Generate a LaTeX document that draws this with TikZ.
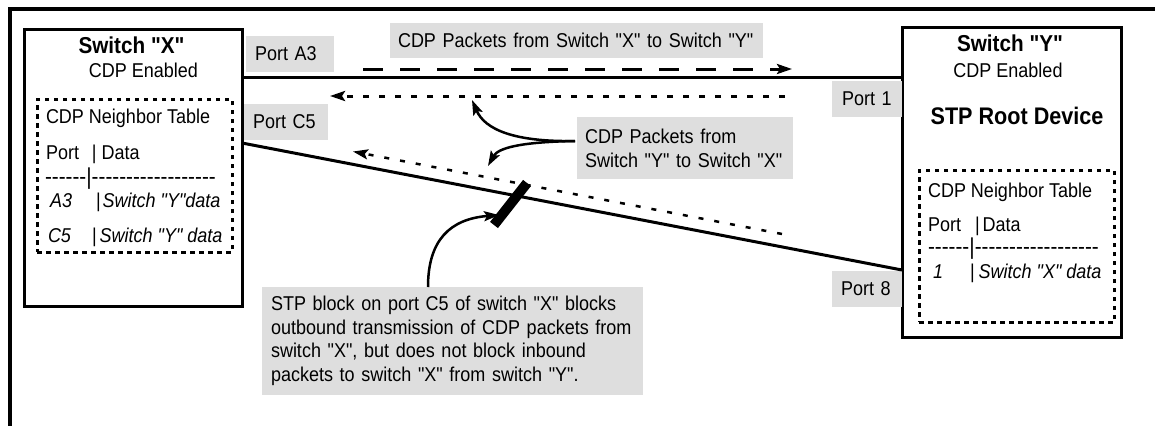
\documentclass[tikz,border=0pt]{standalone}
\usepackage{fontspec}
\setmainfont{Liberation Sans}[FakeStretch=0.9, Ligatures=TeXOff]
\usetikzlibrary{arrows.meta,calc}
\definecolor{lblgray}{RGB}{222,222,222}
\begin{document}
\begin{tikzpicture}[x=1pt,y=-1pt,
  every node/.style={font=\fontsize{20pt}{24pt}\selectfont, inner sep=0pt, outer sep=0pt},
  swbox/.style={draw, line width=3pt, anchor=north west},
  tblbox/.style={draw, line width=3pt, dash pattern=on 4.5pt off 4.5pt, anchor=north west},
  lbl/.style={fill=lblgray, anchor=north west, align=left, inner ysep=0pt},
  swtitle/.style={anchor=base, font=\fontsize{23pt}{26pt}\selectfont\bfseries},
  ctext/.style={anchor=base},
  ltext/.style={anchor=base west},
  dashrow/.style={anchor=base west, font=\fontsize{23pt}{26pt}\selectfont},
  link/.style={line width=3pt},
  tipS/.style={-{Stealth[length=15pt,width=10pt,inset=3pt]}},
  pktxy/.style={line width=3pt, dash pattern=on 20pt off 17pt, tipS},
  pktyx/.style={line width=3pt, dash pattern=on 6pt off 10pt, tipS},
  pktyxlow/.style={line width=2.5pt, dash pattern=on 5pt off 11pt, tipS},
  curv/.style={line width=2.5pt, tipS},
  frame/.style={line width=4pt}
]
\useasboundingbox (0,0) rectangle (1155,426);

% outer frame (top and left only)
\draw[frame] (1155,9) -- (9.5,9) -- (9.5,426);

% switch boxes
\node[swbox, minimum width=218pt, minimum height=277pt] (sx) at (24,29) {};
\node[swbox, minimum width=219pt, minimum height=310pt] (sy) at (902,27) {};

% neighbor tables
\node[tblbox, minimum width=195pt, minimum height=153pt] (tx) at (37,99) {};
\node[tblbox, minimum width=195pt, minimum height=152pt] (ty) at (919,170) {};

% switch X texts
\node[swtitle] (sxT) at (131.5,53) {Switch "X"};
\node[ctext] (sxE) at (143.5,77) {CDP Enabled};
\node[ltext] (tx1) at (46,123) {CDP Neighbor Table};
\node[ltext] (tx2) at (46,159) {\makebox[46pt][l]{Port}|\hspace{5pt}Data};
\node[dashrow] (tx3) at (45,184) {------|------------------};
\node[ltext] (tx4) at (50,207) {\itshape\makebox[46pt][l]{A3}{\upshape|}\hspace{2pt}Switch "Y"data};
\node[ltext] (tx5) at (48,242) {\itshape\makebox[44pt][l]{C5}{\upshape|}\hspace{3pt}Switch "Y" data};

% switch Y texts
\node[swtitle] (syT) at (1010,51) {Switch "Y"};
\node[ctext] (syE) at (1008,77) {CDP Enabled};
\node[anchor=base, font=\fontsize{24pt}{28pt}\selectfont\bfseries] (syR) at (1017,124) {STP Root Device};
\node[ltext] (ty1) at (928,197) {CDP Neighbor Table};
\node[ltext] (ty2) at (928,231) {\makebox[47pt][l]{Port}|\hspace{3pt}Data};
\node[dashrow] (ty3) at (928,254) {------|------------------};
\node[ltext] (ty4) at (933,278) {\itshape\makebox[37pt][l]{1}{\upshape|}\hspace{4pt}Switch "X" data};

% port labels
\node[lbl, minimum height=36pt, text width=70pt, inner xsep=9pt] (pA3) at (246,36) {Port A3};
\node[lbl, minimum height=36pt, text width=66pt, inner xsep=9pt] (pC5) at (244,104) {Port C5};
\node[lbl, minimum height=36pt, text width=50pt, inner xsep=10pt] (p1) at (832,81) {Port 1};
\node[lbl, minimum height=36pt, text width=52pt, inner xsep=9pt] (p8) at (832,271) {Port 8};

% packet labels
\node[lbl, minimum height=35pt, text width=357pt, inner xsep=8pt] (lxy) at (390,23) {CDP Packets from Switch "X" to Switch "Y"};
\node[lbl, minimum height=62pt, text width=200pt, inner xsep=8pt] (lyx) at (577,117) {CDP Packets from\\Switch "Y" to Switch "X"};
\node[lbl, minimum height=108pt, text width=363pt, inner xsep=9pt, font=\fontsize{20pt}{23.6pt}\selectfont] (stp) at (262,287)
  {STP block on port C5 of switch "X" blocks\\outbound transmission of CDP packets from\\switch "X", but does not block inbound\\packets to switch "X" from switch "Y".};

% links between switches
\coordinate (sxA) at ($(sx.north east)+(0,48)$);
\coordinate (syA) at ($(sy.north west)+(0,50)$);
\coordinate (sxC) at ($(sx.north east)+(0,114)$);
\coordinate (syC) at ($(sy.north west)+(0,243)$);
\draw[link] (sxA) -- (syA);
\draw[link] (sxC) -- (syC);

% packet flows
\coordinate (xyS) at (363,69);
\coordinate (xyE) at (792,69);
\coordinate (yxS) at (785,96);
\coordinate (yxE) at (330,96);
\coordinate (yxlS) at (782,234);
\coordinate (yxlE) at (353,151.5);
\draw[pktxy] (xyS) -- (xyE);
\draw[pktyx] (yxS) -- (yxE);
\draw[pktyxlow] (yxlS) -- (yxlE);

% STP block bar
\coordinate (blkA) at (527,183);
\coordinate (blkB) at (494,225);
\draw[line width=10pt] (blkA) -- (blkB);

% callout arrows
\coordinate (join) at ($(lyx.north west)+(-2,24)$);
\coordinate (upTip) at (472,100);
\coordinate (dnTip) at (488,166);
\draw[curv] (join) .. controls (515,142) and (485,130) .. (upTip);
\draw[curv] (join) .. controls (520,142) and (498,148) .. (dnTip);
\coordinate (stpS) at ($(stp.north west)+(166,0)$);
\coordinate (stpTip) at (499,215);
\draw[curv] (stpS) .. controls (428,240) and (450,219) .. (stpTip);
\end{tikzpicture}
\end{document}
